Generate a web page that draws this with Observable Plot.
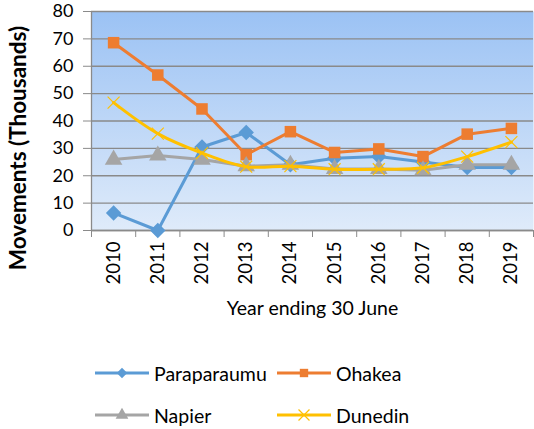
<!DOCTYPE html>
<html>
<head>
<meta charset="utf-8">
<script src="https://cdn.jsdelivr.net/npm/d3@7"></script>
<script src="https://cdn.jsdelivr.net/npm/@observablehq/plot@0.6"></script>
<style>
  body { margin: 0; background: #fff; font-family: Lato, "Open Sans", sans-serif; }
  #chart { width: 534px; height: 330px; }
  .legend { position: relative; width: 534px; height: 99px; font-size: 19.5px; color: #000; }
  .item { position: absolute; display: flex; align-items: center; height: 20px; }
  .item svg { margin-right: 5px; }
</style>
</head>
<body>
<div id="chart"></div>
<div class="legend" id="legend"></div>
<script>
const years = [2010, 2011, 2012, 2013, 2014, 2015, 2016, 2017, 2018, 2019];
const paraparaumu = [6.4, 0, 30.5, 35.8, 24, 26.4, 27, 25, 23, 23];
const ohakea = [68.6, 56.8, 44.4, 27.7, 36.1, 28.5, 29.8, 27, 35.2, 37.3];
const napier = [25.9, 27.4, 25.9, 23.5, 24, 22.5, 22.5, 22, 24, 24];
const dunedin = [46.7, 35.4, 28.3, 23.3, 23.5, 22.4, 22.4, 22.9, 27, 32.3];
const seriesNames = ["Paraparaumu", "Ohakea", "Napier", "Dunedin"];
const seriesColors = ["#5B9BD5", "#ED7D31", "#A5A5A5", "#FFC000"];
const seriesSymbols = ["diamond2", "square", "triangle", "times"];
const yTicks = [0, 10, 20, 30, 40, 50, 60, 70, 80];

const seriesValues = [paraparaumu, ohakea, napier, dunedin];
const rows = (i) => years.map((year, j) => ({year, value: seriesValues[i][j], series: seriesNames[i]}));
const boundaries = d3.range(years[0] - 0.5, years[years.length - 1] + 1, 1);

const lineMark = (i, curve) => Plot.line(rows(i), {x: "year", y: "value", stroke: seriesColors[i], strokeWidth: 3, curve});
const dotMark = (i, r, extra) => Plot.dot(rows(i), {x: "year", y: "value", symbol: () => seriesSymbols[i], r, ...extra});

const plot = Plot.plot({
  width: 534,
  height: 330,
  marginLeft: 91,
  marginRight: 1,
  marginTop: 11,
  marginBottom: 100,
  style: {fontFamily: "Lato, Open Sans, sans-serif", fontSize: "18px", color: "#000", background: "#fff", overflow: "visible"},
  x: {domain: [boundaries[0], boundaries[boundaries.length - 1]], axis: null},
  y: {domain: [0, 80], axis: null},
  marks: [
    Plot.frame({fill: "url(#bgGrad)", stroke: null}),
    Plot.gridY(yTicks, {stroke: "#8a8a8a", strokeOpacity: 1, strokeWidth: 1.3}),
    Plot.ruleX([boundaries[0]], {stroke: "#8a8a8a", strokeWidth: 1.3}),
    Plot.ruleY([0], {stroke: "#8a8a8a", strokeWidth: 1.3}),
    Plot.axisY(yTicks, {tickSize: 8, tickPadding: 10, stroke: "#8a8a8a", fontSize: 18, label: null}),
    Plot.axisX(boundaries, {tickSize: 7, tickFormat: () => "", stroke: "#8a8a8a", label: null}),
    Plot.axisX(years, {tickSize: 0, tickRotate: -90, tickPadding: 11, tickFormat: d => String(d), fontSize: 18.5, label: null}),
    Plot.text(["Year ending 30 June"], {frameAnchor: "bottom", lineAnchor: "middle", textAnchor: "middle", dy: 78, fontSize: 19.5, text: d => d}),
    Plot.text(["Movements (Thousands)"], {frameAnchor: "left", textAnchor: "middle", lineAnchor: "middle", dx: -73, dy: 27, rotate: -90, fontSize: 22.5, fontWeight: "bold", text: d => d}),
    lineMark(0),
    dotMark(0, 6, {fill: seriesColors[0], stroke: seriesColors[0]}),
    lineMark(1),
    dotMark(1, 6.5, {fill: seriesColors[1], stroke: null}),
    lineMark(2),
    dotMark(2, 6.5, {fill: seriesColors[2], stroke: null}),
    lineMark(3, "catmull-rom"),
    dotMark(3, 5.5, {stroke: seriesColors[3], strokeWidth: 1.2, fill: "none"})
  ]
});

const svg = d3.select(plot);
const defs = svg.insert("defs", ":first-child");
const grad = defs.append("linearGradient").attr("id", "bgGrad").attr("x1", 0).attr("y1", 0).attr("x2", 0).attr("y2", 1);
grad.append("stop").attr("offset", "0%").attr("stop-color", "#9BC2F4");
grad.append("stop").attr("offset", "100%").attr("stop-color", "#DFEBFA");
document.getElementById("chart").appendChild(plot);

// Legend
const legend = d3.select("#legend");
const positions = [[95, 33], [277, 33], [95, 75], [277, 75]];
seriesNames.forEach((name, i) => {
  const item = legend.append("div").attr("class", "item")
    .style("left", positions[i][0] + "px").style("top", positions[i][1] + "px");
  const s = item.append("svg").attr("width", 54).attr("height", 20);
  s.append("line").attr("x1", 0).attr("x2", 54).attr("y1", 10).attr("y2", 10)
    .attr("stroke", seriesColors[i]).attr("stroke-width", 3);
  const sym = {diamond2: d3.symbolDiamond2, square: d3.symbolSquare, triangle: d3.symbolTriangle, times: d3.symbolTimes}[seriesSymbols[i]];
  const path = s.append("path").attr("transform", "translate(27,10)")
    .attr("d", d3.symbol(sym, i === 3 ? 80 : 70)());
  if (i === 3) path.attr("fill", "none").attr("stroke", seriesColors[i]).attr("stroke-width", 1.2);
  else path.attr("fill", seriesColors[i]);
  item.append("span").text(name);
});
</script>
</body>
</html>
